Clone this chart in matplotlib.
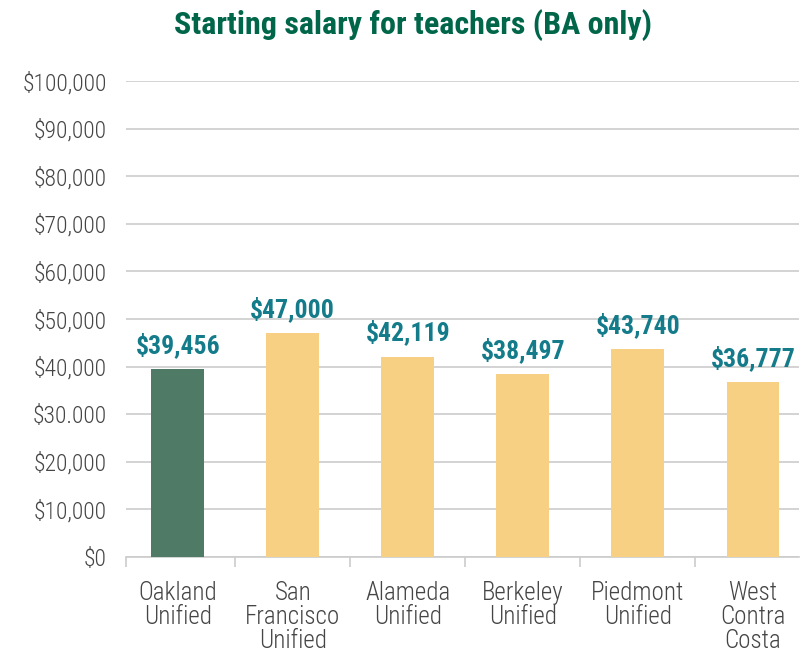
import matplotlib
matplotlib.use('Agg')
import matplotlib.pyplot as plt
from matplotlib import font_manager

# Data
districts = ['Oakland\nUnified', 'San\nFrancisco\nUnified', 'Alameda\nUnified',
             'Berkeley\nUnified', 'Piedmont\nUnified', 'West\nContra\nCosta']
salaries = [39456, 47000, 42119, 38497, 43740, 36777]
value_labels = ['$39,456', '$47,000', '$42,119', '$38,497', '$43,740', '$36,777']
y_ticks = [0, 10000, 20000, 30000, 40000, 50000, 60000, 70000, 80000, 90000, 100000]
y_tick_labels = ['$0', '$10,000', '$20,000', '$30.000', '$40,000', '$50,000',
                 '$60,000', '$70,000', '$80,000', '$90,000', '$100,000']

# Pick a narrow font if installed
names = {f.name for f in font_manager.fontManager.ttflist}
font = 'DejaVu Sans'
for cand in ['Roboto Condensed', 'Liberation Sans Narrow', 'Roboto']:
    if cand in names:
        font = cand
        break
plt.rcParams['font.family'] = [font, 'DejaVu Sans']

colors = ['#4f7b66'] + ['#f7d084'] * 5
text_grey = '#454545'

fig = plt.figure(figsize=(8.01, 6.51), dpi=100)
ax = fig.add_axes([126 / 801, 1 - 557 / 651, 673 / 801, (557 - 81) / 651])

x = list(range(len(districts)))
ax.bar(x, salaries, width=0.46, color=colors, zorder=3)

for xi, v, lab in zip(x, salaries, value_labels):
    ax.text(xi, v + 2300, lab, ha='center', va='bottom', fontsize=18.5,
            fontweight='bold', color='#137b8a', zorder=4)

ax.set_ylim(0, 100000)
ax.set_xlim(-0.45, 5.4)
ax.set_yticks(y_ticks)
ax.set_yticklabels(y_tick_labels, fontsize=17, color=text_grey, fontweight='light')
ax.tick_params(axis='y', length=0, pad=14)
ax.yaxis.grid(True, color='#cccccc', linewidth=1.2, zorder=0)

# separators between categories as major ticks, names as minor ticks
ax.set_xticks([-0.45, 0.5, 1.5, 2.5, 3.5, 4.5])
ax.set_xticklabels([])
ax.tick_params(axis='x', which='major', length=7, color='#cccccc', width=1.2)
ax.set_xticks(x, minor=True)
ax.set_xticklabels(districts, minor=True, fontsize=18, color=text_grey,
                   fontweight='light', linespacing=1.0)
ax.tick_params(axis='x', which='minor', length=0, pad=17)

for side in ['top', 'right', 'left']:
    ax.spines[side].set_visible(False)
ax.spines['bottom'].set_color('#cccccc')
ax.spines['bottom'].set_linewidth(1.2)

fig.text(0.516, 0.962, 'Starting salary for teachers (BA only)', ha='center', va='center',
         fontsize=23, fontweight='bold', color='#00664a')

fig.savefig('out.png', dpi=100)
